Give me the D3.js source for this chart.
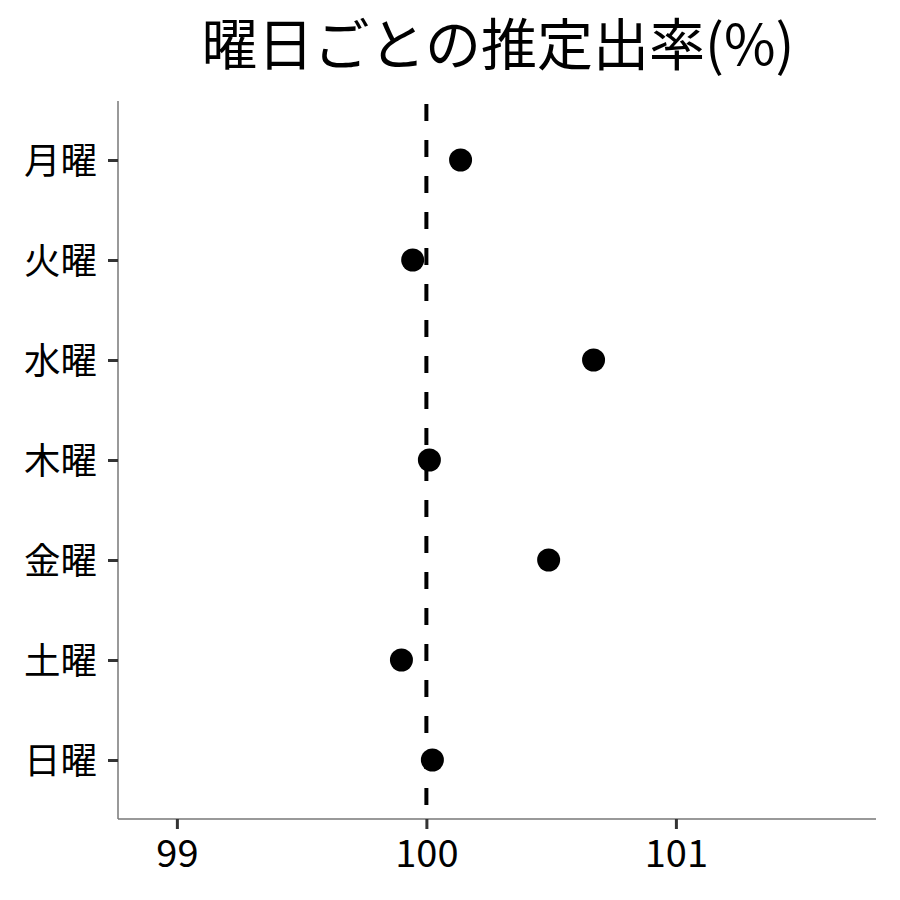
<!DOCTYPE html>
<html>
<head>
<meta charset="utf-8">
<script src="https://cdn.jsdelivr.net/npm/d3@7"></script>
<style>
  body { margin: 0; background: #fff; }
  svg text { font-family: "Noto Sans CJK JP", "Noto Sans", sans-serif; fill: #000; }
</style>
</head>
<body>
<svg id="chart"></svg>
<script>
// data
const days = ["月曜", "火曜", "水曜", "木曜", "金曜", "土曜", "日曜"];
const rates = [100.137, 99.945, 100.67, 100.012, 100.49, 99.9, 100.024];
const xTicks = [99, 100, 101];
const refValue = 100;
const title = "曜日ごとの推定出率(%)";

const width = 900, height = 900;
const margin = { top: 101, right: 24, bottom: 81, left: 118 };

const svg = d3.select("#chart").attr("width", width).attr("height", height);

const x = d3.scaleLinear()
  .domain([98.764, 101.802])
  .range([margin.left, width - margin.right]);

const y = d3.scalePoint()
  .domain(days)
  .range([160, 760]);

// title
svg.append("text")
  .attr("x", 498)
  .attr("y", 65)
  .attr("text-anchor", "middle")
  .style("font-size", "56px")
  .text(title);

// reference line
svg.append("line")
  .attr("x1", x(refValue)).attr("x2", x(refValue))
  .attr("y1", margin.top).attr("y2", height - margin.bottom)
  .attr("stroke", "#000")
  .attr("stroke-width", 4)
  .attr("stroke-dasharray", "17 19")
  .attr("stroke-dashoffset", -3);

// points
svg.append("g")
  .selectAll("circle")
  .data(days)
  .join("circle")
  .attr("cx", (d, i) => x(rates[i]))
  .attr("cy", (d) => y(d))
  .attr("r", 11.5)
  .attr("fill", "#000");

// x axis
const xAxis = svg.append("g")
  .attr("transform", `translate(0,${height - margin.bottom})`)
  .call(d3.axisBottom(x).tickValues(xTicks).tickSize(10).tickPadding(5).tickFormat(d3.format("d")));
xAxis.select(".domain").attr("stroke", "#777").attr("stroke-width", 1.5).attr("d", `M${margin.left},0H${width - margin.right}`);
xAxis.selectAll(".tick line").attr("stroke", "#333").attr("stroke-width", 3);
xAxis.selectAll(".tick text").style("font-size", "38px").attr("dy", "0.88em");

// y axis
const yAxis = svg.append("g")
  .attr("transform", `translate(${margin.left},0)`)
  .call(d3.axisLeft(y).tickSize(10).tickPadding(11));
yAxis.select(".domain").attr("stroke", "#777").attr("stroke-width", 1.5).attr("d", `M0,${margin.top}V${height - margin.bottom}`);
yAxis.selectAll(".tick line").attr("stroke", "#333").attr("stroke-width", 3);
yAxis.selectAll(".tick text").style("font-size", "36.5px").attr("dy", "0.36em");
</script>
</body>
</html>
